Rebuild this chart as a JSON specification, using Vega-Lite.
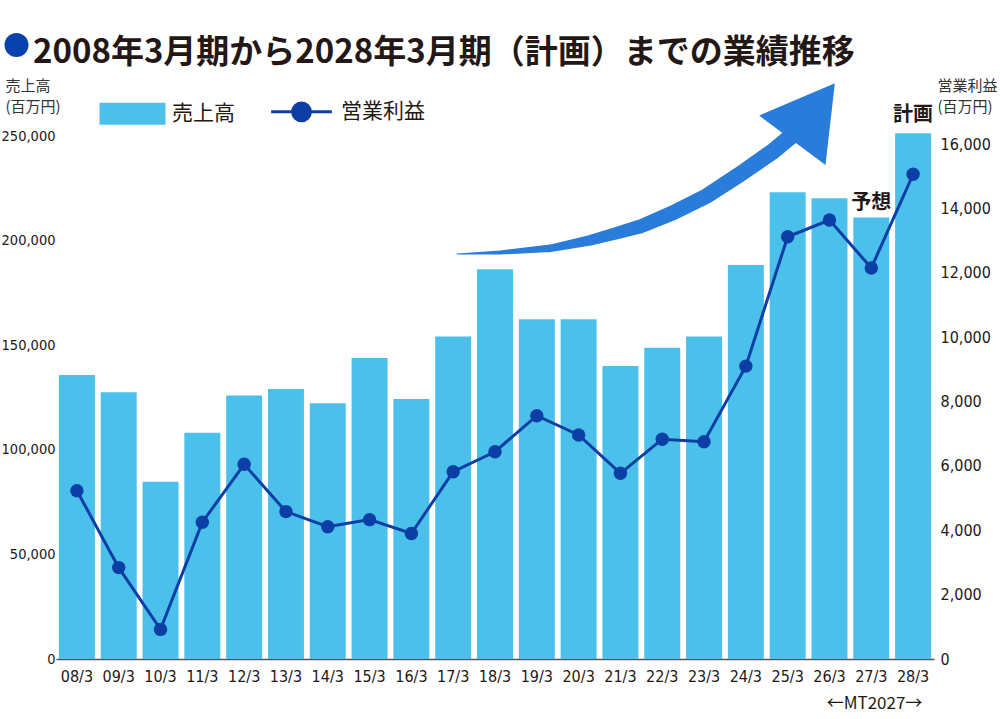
{
  "$schema": "https://vega.github.io/schema/vega-lite/v6.json",
  "width": 878,
  "height": 523,
  "autosize": "none",
  "padding": {"left": 56, "top": 136, "right": 66, "bottom": 60},
  "background": "white",
  "title": {
    "text": "2008年3月期から2028年3月期（計画）までの業績推移",
    "anchor": "start",
    "frame": "group",
    "font": "Noto Sans CJK JP",
    "fontSize": 33,
    "fontWeight": "bold",
    "color": "#231815",
    "dx": -23,
    "dy": 49,
    "offset": 12
  },
  "config": {
    "view": {"stroke": null},
    "axis": {"grid": false, "ticks": false}
  },
  "datasets": {
    "perf": [
      {"fy": "08/3", "sales": 135800, "op": 5230},
      {"fy": "09/3", "sales": 127500, "op": 2840},
      {"fy": "10/3", "sales": 84700, "op": 920},
      {"fy": "11/3", "sales": 108200, "op": 4250},
      {"fy": "12/3", "sales": 126000, "op": 6050},
      {"fy": "13/3", "sales": 129100, "op": 4580},
      {"fy": "14/3", "sales": 122200, "op": 4110},
      {"fy": "15/3", "sales": 143900, "op": 4330},
      {"fy": "16/3", "sales": 124300, "op": 3900},
      {"fy": "17/3", "sales": 154200, "op": 5820},
      {"fy": "18/3", "sales": 186300, "op": 6440},
      {"fy": "19/3", "sales": 162400, "op": 7560},
      {"fy": "20/3", "sales": 162400, "op": 6960},
      {"fy": "21/3", "sales": 140100, "op": 5770},
      {"fy": "22/3", "sales": 148800, "op": 6830},
      {"fy": "23/3", "sales": 154100, "op": 6750},
      {"fy": "24/3", "sales": 188300, "op": 9100},
      {"fy": "25/3", "sales": 223100, "op": 13120},
      {"fy": "26/3", "sales": 220200, "op": 13640},
      {"fy": "27/3", "sales": 211000, "op": 12150},
      {"fy": "28/3", "sales": 251300, "op": 15060}
    ],
    "notes": [
      {"fy": "27/3", "label": "予想", "pos": 218000},
      {"fy": "28/3", "label": "計画", "pos": 260000}
    ],
    "arrow": [
      {"ax": 9.59, "ay": 193.6, "w": 1},
      {"ax": 10.62, "ay": 194.3, "w": 4},
      {"ax": 11.82, "ay": 196.3, "w": 7.5},
      {"ax": 12.77, "ay": 200.1, "w": 10.5},
      {"ax": 13.42, "ay": 203.6, "w": 12.5},
      {"ax": 13.97, "ay": 206.7, "w": 14},
      {"ax": 14.76, "ay": 213.3, "w": 15},
      {"ax": 15.57, "ay": 221.4, "w": 15.5},
      {"ax": 16.36, "ay": 231.7, "w": 16},
      {"ax": 17.15, "ay": 242.7, "w": 16.5},
      {"ax": 17.75, "ay": 252.7, "w": 16.5}
    ],
    "head": [{"ax": 18.12, "ay": 261.6}],
    "dot": [{"ax": -0.945, "ay": 293.5}]
  },
  "layer": [
    {
      "encoding": {
        "x": {
          "field": "fy",
          "type": "nominal",
          "sort": null,
          "scale": {"paddingInner": 0.14, "paddingOuter": 0.07},
          "axis": {
            "labelAngle": 0,
            "domainColor": "#555555",
            "domainWidth": 1.5,
            "labelFont": "DejaVu Sans Condensed",
            "labelFontSize": 16,
            "labelColor": "#231815",
            "labelPadding": 9,
            "title": "←MT2027→",
            "titleX": 818,
            "titleY": 44,
            "titleAlign": "center",
            "titleBaseline": "middle",
            "titleFont": "Noto Sans CJK JP",
            "titleFontSize": 17,
            "titleFontWeight": "normal",
            "titleColor": "#231815"
          }
        }
      },
      "layer": [
        {
          "data": {"name": "perf"},
          "mark": {"type": "bar"},
          "encoding": {
            "y": {
              "field": "sales",
              "type": "quantitative",
              "scale": {"domain": [0, 250000], "nice": false},
              "axis": {
                "orient": "left",
                "values": [0, 50000, 100000, 150000, 200000, 250000],
                "format": ",.0f",
                "domain": false,
                "labelPadding": 1,
                "labelFont": "DejaVu Sans Condensed",
                "labelFontSize": 14.5,
                "labelColor": "#231815",
                "title": ["売上高", "(百万円)"],
                "titleAngle": 0,
                "titleAlign": "left",
                "titleBaseline": "top",
                "titleX": -51,
                "titleY": -58,
                "titleFont": "Noto Sans CJK JP",
                "titleFontSize": 15,
                "titleFontWeight": "normal",
                "titleColor": "#333333",
                "titleLineHeight": 21
              }
            },
            "color": {
              "datum": "売上高",
              "scale": {"domain": ["売上高", "営業利益"], "range": ["#4bc0ea", "#0c3fa6"]},
              "legend": {
                "orient": "none",
                "legendX": 66,
                "legendY": -35,
                "direction": "horizontal",
                "title": null,
                "labelFont": "Noto Sans CJK JP",
                "labelFontSize": 21,
                "labelColor": "#231815",
                "labelOffset": 29,
                "columnPadding": 30,
                "symbolSize": 4356,
                "encode": {
                  "symbols": {
                    "update": {
                      "shape": {"signal": "datum.value === '売上高' ? 'M-1,-0.333H1V0.333H-1Z' : 'M-0.92,0H0.92M0.27,0A0.27,0.27 0 1 1 -0.27,0A0.27,0.27 0 1 1 0.27,0Z'"},
                      "fill": {"signal": "datum.value === '売上高' ? '#4bc0ea' : '#0c3fa6'"},
                      "stroke": {"signal": "datum.value === '売上高' ? '#4bc0ea' : '#0c3fa6'"},
                      "strokeWidth": {"signal": "datum.value === '売上高' ? 0 : 3"},
                      "opacity": {"value": 1}
                    }
                  }
                }
              }
            }
          }
        },
        {
          "data": {"name": "notes"},
          "mark": {"type": "text", "font": "Noto Sans CJK JP", "fontSize": 20, "fontWeight": "bold", "color": "#231815", "baseline": "middle"},
          "encoding": {
            "y": {"field": "pos", "type": "quantitative", "scale": {"domain": [0, 250000], "nice": false}, "axis": null},
            "text": {"field": "label"}
          }
        },
        {
          "data": {"name": "perf"},
          "mark": {"type": "line", "strokeWidth": 3, "point": {"filled": true, "size": 180, "opacity": 1}},
          "encoding": {
            "y": {
              "field": "op",
              "type": "quantitative",
              "scale": {"domain": [0, 16250], "nice": false},
              "axis": {
                "orient": "right",
                "values": [0, 2000, 4000, 6000, 8000, 10000, 12000, 14000, 16000],
                "format": ",.0f",
                "domain": false,
                "labelPadding": 6,
                "labelFont": "DejaVu Sans Condensed",
                "labelFontSize": 16,
                "labelColor": "#231815",
                "title": ["営業利益", "(百万円)"],
                "titleAngle": 0,
                "titleAlign": "left",
                "titleBaseline": "top",
                "titleX": 3,
                "titleY": -58,
                "titleFont": "Noto Sans CJK JP",
                "titleFontSize": 15,
                "titleFontWeight": "normal",
                "titleColor": "#333333",
                "titleLineHeight": 21
              }
            },
            "color": {"datum": "営業利益"}
          }
        }
      ],
      "resolve": {"scale": {"y": "independent"}}
    },
    {
      "encoding": {
        "x": {"field": "ax", "type": "quantitative", "scale": {"domain": [0, 21], "nice": false, "zero": false}, "axis": null},
        "y": {"field": "ay", "type": "quantitative", "scale": {"domain": [0, 250], "nice": false}, "axis": null}
      },
      "layer": [
        {
          "data": {"name": "arrow"},
          "mark": {"type": "trail", "color": "#2a7cda"},
          "encoding": {
            "size": {"field": "w", "type": "quantitative", "scale": {"domain": [0, 20], "range": [0, 20]}, "legend": null},
            "order": {"field": "ax", "type": "quantitative"}
          }
        },
        {
          "data": {"name": "head"},
          "mark": {"type": "point", "shape": "M0,-0.86L1,0.86L-1,0.86Z", "filled": true, "color": "#2a7cda", "size": 6839, "angle": 36.7, "opacity": 1}
        },
        {
          "data": {"name": "dot"},
          "mark": {"type": "point", "shape": "circle", "filled": true, "color": "#0a42ad", "size": 576, "opacity": 1}
        }
      ]
    }
  ],
  "resolve": {"scale": {"x": "independent", "y": "independent"}}
}
